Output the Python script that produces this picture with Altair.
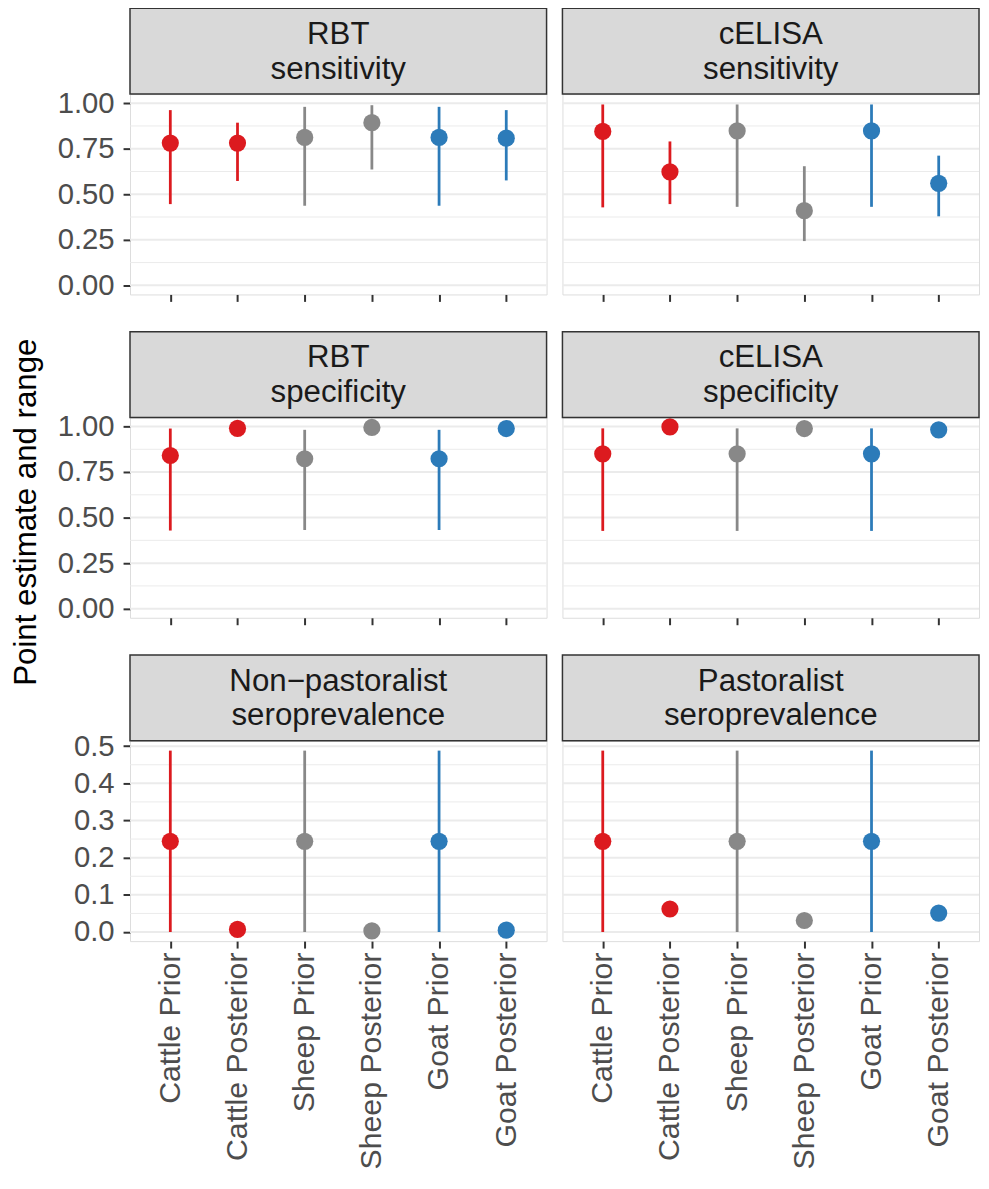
import altair as alt
import pandas as pd

categories = ["Cattle Prior", "Cattle Posterior", "Sheep Prior",
              "Sheep Posterior", "Goat Prior", "Goat Posterior"]
species = ["Cattle", "Cattle", "Sheep", "Sheep", "Goat", "Goat"]
species_order = ["Cattle", "Sheep", "Goat"]
species_colors = ["#DC1A1F", "#888888", "#2C7BB9"]

strip_line1 = ["RBT", "cELISA", "RBT", "cELISA", "Non\u2212pastoralist", "Pastoralist"]
strip_line2 = ["sensitivity", "sensitivity", "specificity", "specificity",
               "seroprevalence", "seroprevalence"]

rbt_sens_est = [0.781, 0.781, 0.812, 0.893, 0.812, 0.808]
rbt_sens_lo = [0.446, 0.573, 0.437, 0.636, 0.437, 0.576]
rbt_sens_hi = [0.962, 0.893, 0.980, 0.989, 0.980, 0.962]

celisa_sens_est = [0.845, 0.623, 0.848, 0.410, 0.848, 0.560]
celisa_sens_lo = [0.428, 0.446, 0.431, 0.243, 0.431, 0.379]
celisa_sens_hi = [0.993, 0.790, 0.993, 0.654, 0.993, 0.712]

rbt_spec_est = [0.841, 0.990, 0.823, 0.995, 0.823, 0.989]
rbt_spec_lo = [0.429, 0.982, 0.432, 0.990, 0.432, 0.980]
rbt_spec_hi = [0.989, 0.996, 0.982, 0.999, 0.982, 0.995]

celisa_spec_est = [0.850, 0.998, 0.850, 0.989, 0.850, 0.982]
celisa_spec_lo = [0.427, 0.994, 0.427, 0.982, 0.427, 0.972]
celisa_spec_hi = [0.990, 0.999, 0.990, 0.995, 0.990, 0.990]

nonpast_est = [0.244, 0.007, 0.244, 0.003, 0.244, 0.005]
nonpast_lo = [0.0, 0.002, 0.0, 0.001, 0.0, 0.001]
nonpast_hi = [0.488, 0.014, 0.488, 0.008, 0.488, 0.011]

past_est = [0.244, 0.062, 0.244, 0.031, 0.244, 0.051]
past_lo = [0.0, 0.050, 0.0, 0.022, 0.0, 0.040]
past_hi = [0.488, 0.075, 0.488, 0.041, 0.488, 0.063]

prob_ticks = [0.0, 0.25, 0.5, 0.75, 1.0]
prob_minor = [0.125, 0.375, 0.625, 0.875]
prev_ticks = [0.0, 0.1, 0.2, 0.3, 0.4, 0.5]
prev_minor = [0.05, 0.15, 0.25, 0.35, 0.45]

FONT = "Liberation Sans"
W = 420
H = 202
STRIP = 86.5

panels_data = [
    (rbt_sens_est, rbt_sens_lo, rbt_sens_hi),
    (celisa_sens_est, celisa_sens_lo, celisa_sens_hi),
    (rbt_spec_est, rbt_spec_lo, rbt_spec_hi),
    (celisa_spec_est, celisa_spec_lo, celisa_spec_hi),
    (nonpast_est, nonpast_lo, nonpast_hi),
    (past_est, past_lo, past_hi),
]


def make_panel(idx):
    est, lo, hi = panels_data[idx]
    row, col = divmod(idx, 2)
    df = pd.DataFrame({"cat": categories, "species": species,
                       "est": est, "lo": lo, "hi": hi})
    if row < 2:
        ydom, yvals, minor, fmt = [-0.05, 1.05], prob_ticks, prob_minor, ".2f"
    else:
        ydom, yvals, minor, fmt = [-0.0245, 0.5145], prev_ticks, prev_minor, ".1f"

    yscale = alt.Scale(domain=ydom, nice=False, zero=False)
    if col == 0:
        yaxis = alt.Axis(values=yvals, format=fmt, grid=False,
                         domain=False, ticks=True, tickSize=7, tickWidth=2,
                         tickColor="#333333", labelFontSize=29.5, labelColor="#4D4D4D",
                         labelFont=FONT, labelPadding=9,
                         title="Point estimate and range" if row == 1 else None,
                         titleFontSize=31.5, titleFont=FONT, titleColor="#000000",
                         titleFontWeight="normal", titlePadding=13, titleY=95,
                         minExtent=75, maxExtent=75)
    else:
        yaxis = None

    if row == 2:
        xaxis = alt.Axis(labels=True, labelAngle=270, labelFontSize=30.5,
                         labelColor="#4D4D4D", labelFont=FONT, labelPadding=4,
                         labelLimit=400,
                         ticks=True, tickSize=7, tickWidth=2, tickColor="#333333",
                         domain=False, grid=False, title=None)
    else:
        xaxis = alt.Axis(labels=False, ticks=True, tickSize=7, tickWidth=2,
                         tickColor="#333333", domain=False, grid=False, title=None)

    xenc = alt.X("cat:N", sort=categories, axis=xaxis,
                 scale=alt.Scale(type="point", padding=0.6, domain=categories))
    color = alt.Color("species:N", scale=alt.Scale(domain=species_order,
                                                    range=species_colors), legend=None)

    minor_rules = alt.Chart(pd.DataFrame({"m": minor})).mark_rule(
        color="#EBEBEB", strokeWidth=1).encode(
        y=alt.Y("m:Q", scale=yscale, axis=yaxis),
        x=alt.value(0), x2=alt.value(W))
    major_rules = alt.Chart(pd.DataFrame({"g": yvals})).mark_rule(
        color="#EBEBEB", strokeWidth=2).encode(
        y=alt.Y("g:Q", scale=yscale, axis=yaxis),
        x=alt.value(0), x2=alt.value(W))

    base = alt.Chart(df)
    bars = base.mark_rule(strokeWidth=2.8).encode(
        x=xenc, y=alt.Y("lo:Q", scale=yscale, axis=yaxis), y2="hi:Q", color=color)
    pts = base.mark_circle(size=300, opacity=1).encode(
        x=xenc, y=alt.Y("est:Q", scale=yscale, axis=yaxis), color=color)

    hdr_df = pd.DataFrame({"l1": [strip_line1[idx]], "l2": [strip_line2[idx]]})
    hdr_rect = alt.Chart(hdr_df).mark_rect(
        fill="#D9D9D9", stroke="#333333", strokeWidth=1.5).encode(
        x=alt.value(0), x2=alt.value(W), y=alt.value(-STRIP), y2=alt.value(0))
    txt_style = dict(fontSize=31.5, font=FONT, color="#1A1A1A",
                     baseline="alphabetic", align="center")
    hdr_t1 = alt.Chart(hdr_df).mark_text(**txt_style).encode(
        text="l1:N", x=alt.value(W / 2), y=alt.value(-STRIP + 36))
    hdr_t2 = alt.Chart(hdr_df).mark_text(**txt_style).encode(
        text="l2:N", x=alt.value(W / 2), y=alt.value(-STRIP + 71))

    return alt.layer(minor_rules, major_rules, bars, pts, hdr_rect, hdr_t1,
                     hdr_t2).properties(width=W, height=H)


panels = [make_panel(i) for i in range(6)]

chart = alt.concat(*panels, columns=2,
                   spacing=alt.RowColnumber(row=STRIP + 37.5, column=16),
                   bounds="flush", align="each").resolve_scale(
    x="independent", y="independent").properties(
    padding={"left": 2, "top": -6, "right": 0, "bottom": 0}
).configure_view(stroke="#333333", strokeWidth=1.5).configure(font=FONT)

chart.save("out.html", embed_options={"renderer": "svg", "actions": False})
